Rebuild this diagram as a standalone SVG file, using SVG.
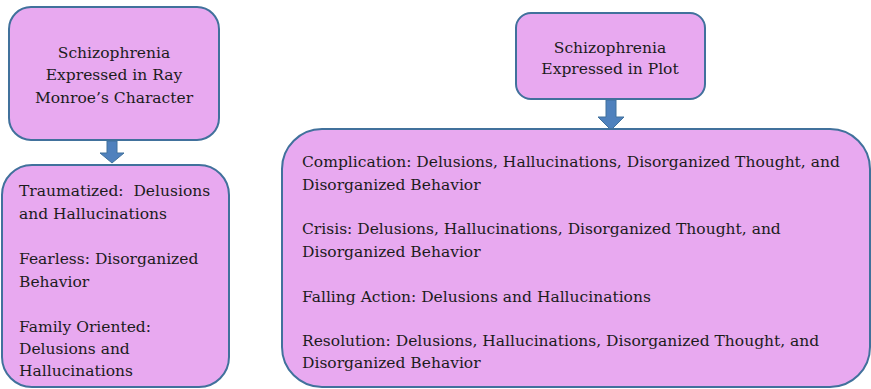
<svg xmlns="http://www.w3.org/2000/svg" width="871" height="389" viewBox="0 0 871 389">
<style>
.box{fill:#E8A9F0;stroke:#41719C;stroke-width:2}
.t{font-family:"DejaVu Serif",serif;font-size:15.5px;fill:#1c1c1c}
.c{text-anchor:middle}
.arrow{fill:#4F81BD;stroke:#41719C;stroke-width:1}
</style>
<rect width="871" height="389" fill="#ffffff"/>
<g id="connectors">
<path class="arrow" d="M107,141 H117 V153 H124 L112,163 L100,153 H107 Z"/>
<path class="arrow" d="M606,100 H616 V117 H624 L611,130 L598,117 H606 Z"/>
</g>
<g id="node-ray">
<rect class="box" x="9" y="7" width="210" height="133" rx="22"/>
<text class="t c" x="114" y="58">Schizophrenia</text>
<text class="t c" x="114" y="80">Expressed in Ray</text>
<text class="t c" x="114" y="103">Monroe’s Character</text>
</g>
<g id="node-ray-details">
<rect class="box" x="2" y="165" width="227" height="222" rx="30"/>
<text class="t" x="19" y="196">Traumatized:&#160; Delusions</text>
<text class="t" x="19" y="219">and Hallucinations</text>
<text class="t" x="19" y="264">Fearless: Disorganized</text>
<text class="t" x="19" y="287">Behavior</text>
<text class="t" x="19" y="332">Family Oriented:</text>
<text class="t" x="19" y="354">Delusions and</text>
<text class="t" x="19" y="376">Hallucinations</text>
</g>
<g id="node-plot">
<rect class="box" x="516" y="13" width="189" height="86" rx="15"/>
<text class="t c" x="610" y="53">Schizophrenia</text>
<text class="t c" x="610" y="74">Expressed in Plot</text>
</g>
<g id="node-plot-details">
<rect class="box" x="282" y="129" width="588" height="258" rx="40"/>
<text class="t" x="302" y="167">Complication: Delusions, Hallucinations, Disorganized Thought, and</text>
<text class="t" x="302" y="190">Disorganized Behavior</text>
<text class="t" x="302" y="234">Crisis: Delusions, Hallucinations, Disorganized Thought, and</text>
<text class="t" x="302" y="257">Disorganized Behavior</text>
<text class="t" x="302" y="302">Falling Action: Delusions and Hallucinations</text>
<text class="t" x="302" y="346">Resolution: Delusions, Hallucinations, Disorganized Thought, and</text>
<text class="t" x="302" y="368">Disorganized Behavior</text>
</g>
</svg>
